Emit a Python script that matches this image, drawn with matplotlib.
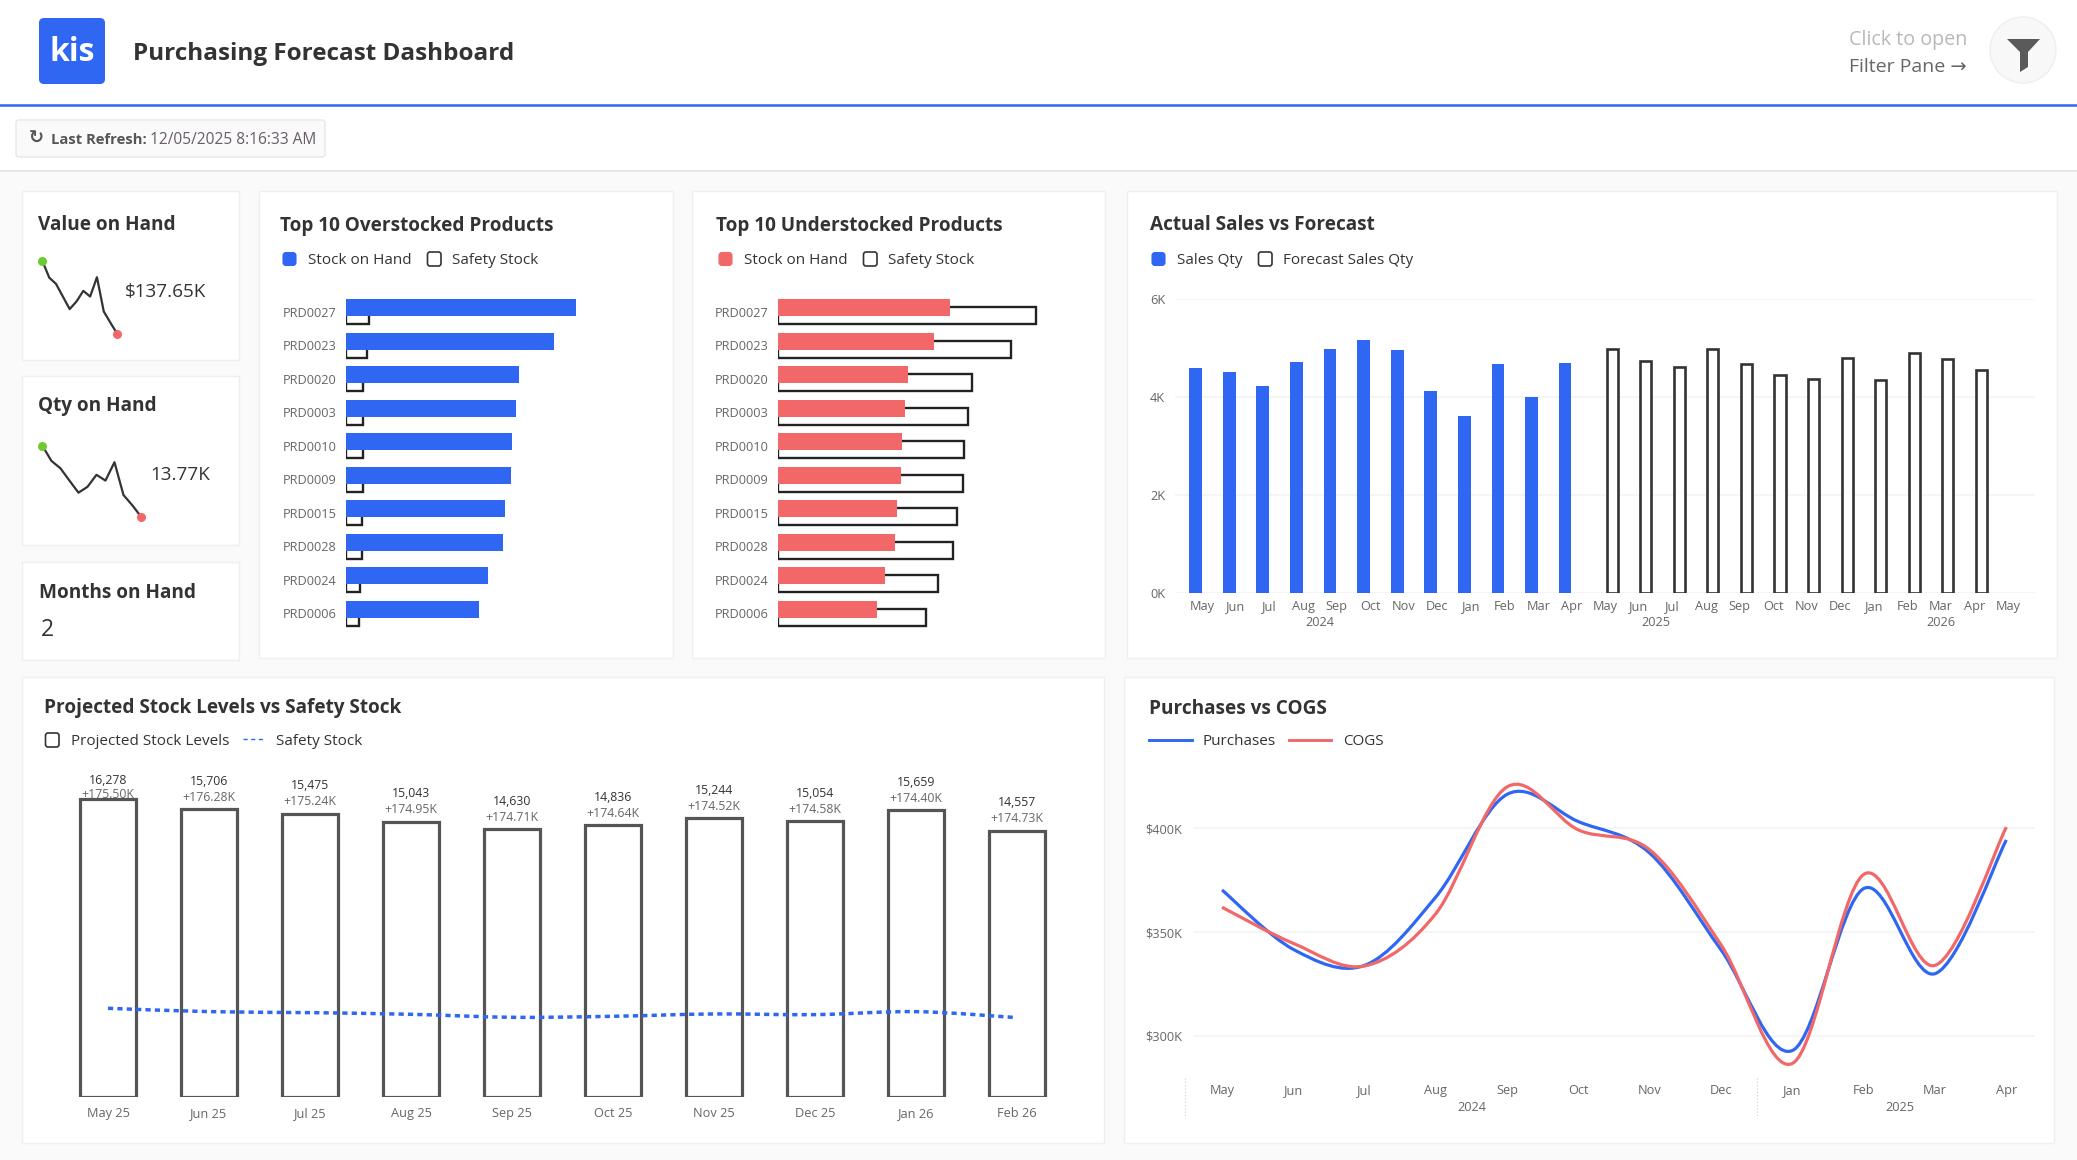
import matplotlib
matplotlib.use('Agg')
import matplotlib.pyplot as plt
from matplotlib.patches import Rectangle, FancyBboxPatch, Circle, Polygon, PathPatch
from matplotlib.path import Path

W = 2077
H = 1160

BLUE = '#2F67F2'
RED = '#F26868'
DARK = '#333333'
GREY = '#666666'

plt.rcParams['font.family'] = ['Open Sans', 'DejaVu Sans']

# overstocked / understocked bars (no axis is shown)
products = ['PRD0027', 'PRD0023', 'PRD0020', 'PRD0003', 'PRD0010', 'PRD0009', 'PRD0015', 'PRD0028', 'PRD0024', 'PRD0006']
over_stock = [229.5, 208, 173, 170, 166, 165, 159, 157, 142.4, 132.6]
over_safety = [23, 21, 17, 17, 16.5, 16.5, 15.6, 15.6, 14.3, 13.4]
under_stock = [172, 155.7, 129.7, 127.3, 124, 123.3, 119.3, 117.3, 106.7, 99.3]
under_safety = [258, 233, 194, 190.3, 185.7, 184.7, 178.7, 175.3, 159.7, 148.3]

# actual sales vs forecast
sales_months = ['May', 'Jun', 'Jul', 'Aug', 'Sep', 'Oct', 'Nov', 'Dec', 'Jan', 'Feb', 'Mar', 'Apr',
                'May', 'Jun', 'Jul', 'Aug', 'Sep', 'Oct', 'Nov', 'Dec', 'Jan', 'Feb', 'Mar', 'Apr', 'May']
sales_qty = [4580, 4500, 4220, 4700, 4970, 5150, 4950, 4110, 3610, 4660, 3990, 4680]
forecast_qty = [4970, 4730, 4610, 4980, 4670, 4440, 4370, 4790, 4340, 4890, 4770, 4550]

# projected stock
proj_months = ['May 25', 'Jun 25', 'Jul 25', 'Aug 25', 'Sep 25', 'Oct 25', 'Nov 25', 'Dec 25', 'Jan 26', 'Feb 26']
proj_stock = [16278, 15706, 15475, 15043, 14630, 14836, 15244, 15054, 15659, 14557]
proj_safety = [4857, 4675, 4620, 4529, 4366, 4420, 4548, 4511, 4675, 4348]
proj_extra = ['+175.50K', '+176.28K', '+175.24K', '+174.95K', '+174.71K', '+174.64K', '+174.52K', '+174.58K', '+174.40K', '+174.73K']

# purchases vs cogs, in $K
pc_months = ['May', 'Jun', 'Jul', 'Aug', 'Sep', 'Oct', 'Nov', 'Dec', 'Jan', 'Feb', 'Mar', 'Apr']
purchases = [370.3, 341.7, 334, 367, 416.4, 403.2, 388, 341.4, 293, 371, 330, 394.4]
cogs = [362, 344.6, 333.7, 359, 420, 399.2, 389.6, 343.8, 286.8, 377.8, 334, 400.6]

# sparklines
value_spark = [211, 194.3, 188, 175.3, 162.7, 170.3, 181, 175.3, 194.7, 160.3, 148.7, 137.65]
qty_spark = [16.5, 15.92, 15.64, 15.17, 14.71, 14.93, 15.39, 15.17, 15.87, 14.62, 14.22, 13.77]

fig = plt.figure(figsize=(W / 100, H / 100), dpi=100, facecolor='#FAFAFA')

# page layer, in pixels with y going down
bg = fig.add_axes([0, 0, 1, 1], zorder=0)
bg.set_xlim(0, W)
bg.set_ylim(H, 0)
bg.axis('off')


def px_axes(x0, y0, x1, y1):
    ax = fig.add_axes([x0 / W, 1 - y1 / H, (x1 - x0) / W, (y1 - y0) / H], zorder=2)
    ax.patch.set_alpha(0)
    for s in ax.spines.values():
        s.set_visible(False)
    ax.tick_params(length=0)
    return ax


def card(x0, y0, x1, y1):
    bg.add_patch(Rectangle((x0, y0), x1 - x0, y1 - y0, fc='white', ec='#EFEFEF', lw=1))


def label(x, y, s, size, color=DARK, weight='normal', ha='left'):
    return bg.text(x, y + 1.5, s, fontsize=size, color=color, fontweight=weight, ha=ha, va='center')


def legend_box(x, y, filled=None):
    if filled:
        bg.add_patch(FancyBboxPatch((x + 1.5, y - 6), 12, 12, boxstyle='round,pad=0,rounding_size=2.5',
                                    fc=filled, ec=filled, lw=1.5))
    else:
        bg.add_patch(FancyBboxPatch((x + 0.5, y - 7), 13.5, 14, boxstyle='round,pad=0,rounding_size=2.5',
                                    fc='white', ec='#333333', lw=1.2))


def month_labels(ax, names, pad):
    ax.set_xticks(range(len(names)))
    ax.set_xticklabels(names, fontsize=AXT, color=GREY, va='baseline')
    ax.tick_params(axis='x', pad=pad)


def smooth_line(ax, xs, ys, **kw):
    # catmull-rom segments as bezier curves, the path goes through every value
    verts = [(xs[0], ys[0])]
    codes = [Path.MOVETO]
    n = len(xs)
    for i in range(n - 1):
        a = max(i - 1, 0)
        b = min(i + 2, n - 1)
        verts.append((xs[i] + (xs[i + 1] - xs[a]) / 6, ys[i] + (ys[i + 1] - ys[a]) / 6))
        verts.append((xs[i + 1] - (xs[b] - xs[i]) / 6, ys[i + 1] - (ys[b] - ys[i]) / 6))
        verts.append((xs[i + 1], ys[i + 1]))
        codes += [Path.CURVE4, Path.CURVE4, Path.CURVE4]
    ax.add_patch(PathPatch(Path(verts, codes), fill=False, **kw))


# header
bg.add_patch(Rectangle((0, 0), W, 104, fc='white', ec='none'))
bg.add_patch(Rectangle((0, 106), W, 64, fc='white', ec='none'))
bg.plot([0, W], [104.5, 104.5], color=BLUE, lw=1.8)
bg.plot([0, W], [170.5, 170.5], color='#E6E6E6', lw=1.3)
bg.add_patch(FancyBboxPatch((41, 20), 62, 62, boxstyle='round,pad=2,rounding_size=5', fc=BLUE, ec='none'))
label(72, 51, 'kis', 23, color='white', weight='bold', ha='center')
label(133, 53, 'Purchasing Forecast Dashboard', 17.5, weight='bold')

bg.add_patch(FancyBboxPatch((17, 121), 307, 35, boxstyle='round,pad=1,rounding_size=3', fc='#FAFAFA', ec='#E8E8E8', lw=1))
bg.text(36, 138, '\u21bb', fontsize=13, color='#555555', fontweight='bold', ha='center', va='center', family='DejaVu Sans')
label(51, 138.5, 'Last Refresh:', 10.6, color='#555555', weight='bold')
label(150, 138.5, '12/05/2025 8:16:33 AM', 11.2, color='#6A5C68')

label(1849, 38, 'Click to open', 14.2, color='#B8B8B8')
label(1849, 65, 'Filter Pane \u2192', 14, color='#666666')
bg.add_patch(Circle((2023, 50), 33, fc='#F8F8F8', ec='#EEEEEE', lw=1))
bg.add_patch(Polygon([(2007, 39), (2040, 39), (2028, 52), (2028, 67), (2020, 72), (2020, 52)], fc='#5A5A5A', ec='none'))

# cards
card(21.5, 191, 239, 360)
card(21.5, 376, 239, 545)
card(21.5, 562, 239, 660)
card(258.5, 191, 673, 658)
card(692, 191, 1105, 658)
card(1127, 191, 2057, 658)
card(21.5, 677, 1104, 1143)
card(1124, 677, 2054, 1143)

TITLE = 13.65
LEG = 11
AXT = 9.2

label(38.5, 224, 'Value on Hand', TITLE, weight='bold')
label(38.5, 404, 'Qty on Hand', TITLE, weight='bold')
label(39, 592, 'Months on Hand', TITLE, weight='bold')
label(41, 629, '2', 16.5)
label(125, 290, '$137.65K', 13.6)
label(150, 473, '13.77K', 13.6)


def spark(x0, y0, x1, y1, values):
    ax = px_axes(x0, y0, x1, y1)
    xs = list(range(len(values)))
    ax.plot(xs, values, color='#333333', lw=1.6)
    ax.plot(xs[0], values[0], 'o', ms=6.5, color='#6CCB2E', clip_on=False, mec='none')
    ax.plot(xs[-1], values[-1], 'o', ms=6.5, color=RED, clip_on=False, mec='none')
    ax.set_xlim(xs[0], xs[-1])
    ax.set_ylim(min(values), max(values))
    ax.axis('off')


spark(42.4, 261, 117.4, 334, value_spark)
spark(42.4, 445.7, 141.5, 517.3, qty_spark)


def product_bars(x0, stock, safety, color):
    ax = px_axes(x0, 295, x0 + 300, 630)
    ys = list(range(len(products)))
    ax.barh([y + 0.12 for y in ys], safety, height=0.5, fc='white', ec='#222222', lw=1.7, zorder=2)
    ax.barh([y - 0.12 for y in ys], stock, height=0.5, color=color, zorder=3)
    ax.set_xlim(0, 300)
    ax.set_ylim(9.5, -0.5)
    ax.set_yticks(ys)
    ax.set_yticklabels(products, fontsize=AXT, color=GREY)
    ax.tick_params(axis='y', pad=7)
    ax.set_xticks([])


label(280, 224, 'Top 10 Overstocked Products', TITLE, weight='bold')
legend_box(282, 259, BLUE)
label(307.5, 259, 'Stock on Hand', LEG)
legend_box(427, 259)
label(452, 259, 'Safety Stock', LEG)
product_bars(346, over_stock, over_safety, BLUE)

label(716, 224, 'Top 10 Understocked Products', TITLE, weight='bold')
legend_box(718, 259, RED)
label(743.5, 259, 'Stock on Hand', LEG)
legend_box(863, 259)
label(888, 259, 'Safety Stock', LEG)
product_bars(778, under_stock, under_safety, RED)

# actual sales vs forecast
label(1150, 224, 'Actual Sales vs Forecast', TITLE, weight='bold')
legend_box(1151, 259, BLUE)
label(1177, 259, 'Sales Qty', LEG)
legend_box(1258, 259)
label(1283, 259, 'Forecast Sales Qty', LEG)

ax = px_axes(1175, 298.7, 2034.5, 592.7)
n_actual = len(sales_qty)
ax.bar([i - 0.2 for i in range(n_actual)], sales_qty, width=0.38, color=BLUE, zorder=3)
ax.bar([n_actual + i + 0.2 for i in range(len(forecast_qty))], forecast_qty, width=0.33,
       fc='white', ec='#333333', lw=1.9, zorder=3)
ax.set_xlim(-0.816, 24.78)
ax.set_ylim(0, 6000)
ax.set_yticks([0, 2000, 4000, 6000])
ax.set_yticklabels(['0K', '2K', '4K', '6K'], fontsize=AXT, color=GREY)
ax.tick_params(axis='y', pad=7)
month_labels(ax, sales_months, 12.5)
ax.grid(axis='y', color='#F5F5F5', lw=1.4, zorder=0)
for xpos, yr in [(3.5, '2024'), (13.5, '2025'), (22, '2026')]:
    ax.annotate(yr, xy=(xpos, 0), xycoords=('data', 'axes fraction'), xytext=(0, -21.5),
                textcoords='offset points', ha='center', va='center', fontsize=AXT, color=GREY)

# projected stock
label(44.5, 707, 'Projected Stock Levels vs Safety Stock', TITLE, weight='bold')
legend_box(45, 740)
label(71, 740, 'Projected Stock Levels', LEG)
bg.plot([243, 265], [739, 739], color=BLUE, lw=1, ls=(0, (3, 2.5)))
label(276, 740, 'Safety Stock', LEG)

ax = px_axes(57.5, 780, 1067.5, 1097.3)
xs = list(range(len(proj_months)))
ax.bar(xs, proj_stock, width=0.55, fc='white', ec='#555555', lw=2.3, zorder=3)
smooth_line(ax, xs, proj_safety, ec=BLUE, lw=2.5, ls=(0, (1.5, 1.2)), zorder=4)
ax.set_xlim(-0.5, 9.5)
ax.set_ylim(0, 17315)
month_labels(ax, proj_months, 14)
ax.set_yticks([])
for i in xs:
    # the first bar reaches the top of the plot, its labels get squeezed
    top_off = 13 if i == 0 else 20
    sub_off = 3 if i == 0 else 8.5
    ax.annotate(f'{proj_stock[i]:,}', xy=(i, proj_stock[i]), xytext=(0, top_off), textcoords='offset points',
                ha='center', va='center', fontsize=8.8, color='#333333', zorder=1, annotation_clip=False)
    ax.annotate(proj_extra[i], xy=(i, proj_stock[i]), xytext=(0, sub_off), textcoords='offset points',
                ha='center', va='center', fontsize=8.8, color=GREY, zorder=1, annotation_clip=False)

# purchases vs cogs
label(1149, 707, 'Purchases vs COGS', TITLE, weight='bold')
bg.plot([1149, 1192], [739.5, 739.5], color=BLUE, lw=2.1)
label(1203, 740, 'Purchases', LEG)
bg.plot([1289, 1331], [739.5, 739.5], color=RED, lw=2.1)
label(1343, 740, 'COGS', LEG)

ax = px_axes(1193, 760, 2034.5, 1075)
xs = list(range(len(pc_months)))
smooth_line(ax, xs, purchases, ec=BLUE, lw=2.3, zorder=3)
smooth_line(ax, xs, cogs, ec=RED, lw=2.3, zorder=4)
ax.set_xlim(-0.407, 11.395)
ax.set_ylim(281.2, 432.9)
ax.set_yticks([300, 350, 400])
ax.set_yticklabels(['$300K', '$350K', '$400K'], fontsize=AXT, color=GREY)
ax.tick_params(axis='y', pad=8)
month_labels(ax, pc_months, 14)
ax.grid(axis='y', color='#F5F5F5', lw=1.4, zorder=0)
for xpos, yr in [(3.5, '2024'), (9.5, '2025')]:
    ax.annotate(yr, xy=(xpos, 0), xycoords=('data', 'axes fraction'), xytext=(0, -23.5),
                textcoords='offset points', ha='center', va='center', fontsize=AXT, color=GREY)
bg.plot([1185, 1185], [1078, 1118], color='#D5D5D5', lw=0.9, ls=':')
bg.plot([1756.7, 1756.7], [1078, 1118], color='#D5D5D5', lw=0.9, ls=':')

fig.savefig('out.png', dpi=100, facecolor=fig.get_facecolor())
